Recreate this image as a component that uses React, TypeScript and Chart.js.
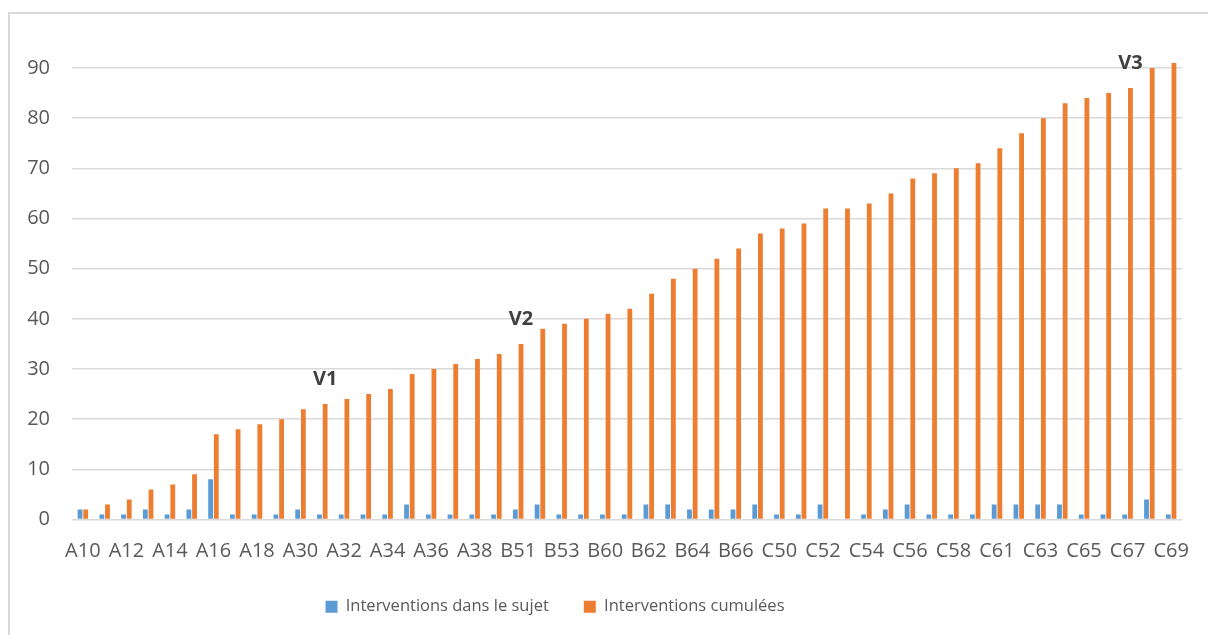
import React, { useEffect, useRef } from "react";
import { Chart, registerables } from "chart.js";

Chart.register(...registerables);

const categories = [
  "A10", "A11", "A12", "A13", "A14", "A15", "A16", "A17", "A18", "A19",
  "A30", "A31", "A32", "A33", "A34", "A35", "A36", "A37", "A38", "A39",
  "B51", "B52", "B53", "B54", "B60", "B61", "B62", "B63", "B64", "B65",
  "B66", "B67", "C50", "C51", "C52", "C53", "C54", "C55", "C56", "C57",
  "C58", "C60", "C61", "C62", "C63", "C64", "C65", "C66", "C67", "C68", "C69",
];

const interventionsSujet = [
  2, 1, 1, 2, 1, 2, 8, 1, 1, 1,
  2, 1, 1, 1, 1, 3, 1, 1, 1, 1,
  2, 3, 1, 1, 1, 1, 3, 3, 2, 2,
  2, 3, 1, 1, 3, 0, 1, 2, 3, 1,
  1, 1, 3, 3, 3, 3, 1, 1, 1, 4, 1,
];

const interventionsCumulees = [
  2, 3, 4, 6, 7, 9, 17, 18, 19, 20,
  22, 23, 24, 25, 26, 29, 30, 31, 32, 33,
  35, 38, 39, 40, 41, 42, 45, 48, 50, 52,
  54, 57, 58, 59, 62, 62, 63, 65, 68, 69,
  70, 71, 74, 77, 80, 83, 84, 85, 86, 90, 91,
];

const seriesNames = ["Interventions dans le sujet", "Interventions cumulées"];
const annotationCategories = ["A31", "B51", "C67"];
const annotationTexts = ["V1", "V2", "V3"];

const FONT = "'Open Sans', 'Noto Sans', sans-serif";

const annotationPlugin = {
  id: "vLabels",
  afterLayout(chart: any) {
    if (chart.legend) {
      chart.legend.right = chart.legend.right - 72;
    }
  },
  afterDatasetsDraw(chart: any) {
    const meta = chart.getDatasetMeta(1);
    const ctx = chart.ctx;
    ctx.save();
    ctx.font = `bold 20px ${FONT}`;
    ctx.fillStyle = "#404040";
    ctx.textAlign = "center";
    ctx.textBaseline = "middle";
    annotationCategories.forEach((cat, k) => {
      const idx = categories.indexOf(cat);
      const el = meta.data[idx];
      if (!el) return;
      ctx.fillText(annotationTexts[k], el.x, el.y - 25);
    });
    ctx.restore();
  },
};

export default function App() {
  const ref = useRef<HTMLCanvasElement | null>(null);

  useEffect(() => {
    if (!ref.current) return;
    const chart = new Chart(ref.current, {
      type: "bar",
      data: {
        labels: categories,
        datasets: [
          {
            label: seriesNames[0],
            data: interventionsSujet,
            backgroundColor: "#5B9BD5",
            categoryPercentage: 0.52,
            barPercentage: 0.85,
          },
          {
            label: seriesNames[1],
            data: interventionsCumulees,
            backgroundColor: "#ED7D31",
            categoryPercentage: 0.52,
            barPercentage: 0.85,
          },
        ],
      },
      options: {
        animation: false,
        responsive: false,
        maintainAspectRatio: false,
        layout: { padding: { left: 0, right: 26, top: 63, bottom: 10 } },
        plugins: {
          tooltip: { enabled: false },
          legend: {
            position: "bottom",
            labels: {
              boxWidth: 12,
              boxHeight: 12,
              padding: 35,
              color: "#595959",
              font: { family: FONT, size: 16.5 },
            },
          },
        },
        scales: {
          x: {
            grid: { display: false },
            border: { display: false },
            afterFit: (scale: any) => {
              scale.height = 44;
            },
            ticks: {
              autoSkip: false,
              maxRotation: 0,
              minRotation: 0,
              padding: 12,
              color: "#595959",
              font: { family: FONT, size: 20 },
              callback: (_v: any, i: number) => (i % 2 === 0 ? categories[i] : ""),
            },
          },
          y: {
            min: 0,
            max: 91,
            border: { display: false },
            grid: { color: "#d9d9d9", lineWidth: 1.5, drawTicks: false },
            afterFit: (scale: any) => {
              scale.width = 72;
            },
            ticks: {
              stepSize: 10,
              includeBounds: false,
              padding: 22,
              color: "#595959",
              font: { family: FONT, size: 20 },
            },
          },
        },
      },
      plugins: [annotationPlugin],
    });
    return () => chart.destroy();
  }, []);

  return (
    <div style={{ position: "absolute", left: 0, top: 0, width: 1208, height: 635, overflow: "hidden", background: "#fff" }}>
      <div
        style={{
          position: "absolute",
          left: 8,
          top: 12,
          width: 1200,
          height: 623,
          borderLeft: "2px solid #d9d9d9",
          borderTop: "2px solid #d9d9d9",
          boxSizing: "border-box",
        }}
      />
      <canvas ref={ref} width={1208} height={635} style={{ position: "absolute", left: 0, top: 0 }} />
    </div>
  );
}
